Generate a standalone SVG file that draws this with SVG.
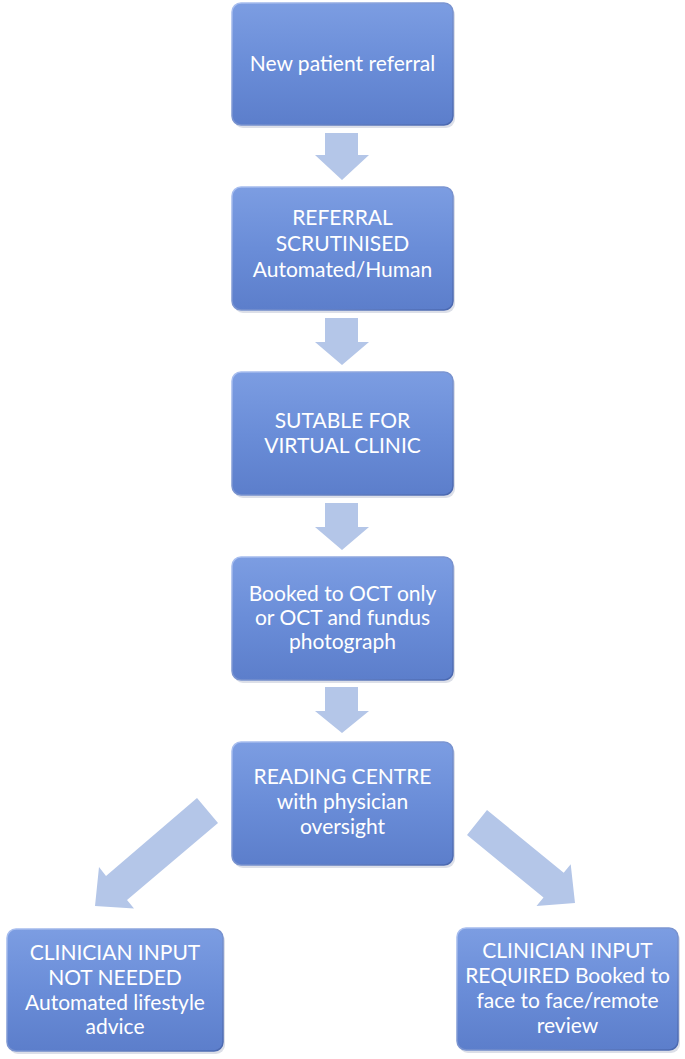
<svg xmlns="http://www.w3.org/2000/svg" width="685" height="1059" viewBox="0 0 685 1059">
<defs>
<linearGradient id="boxFill" x1="0" y1="0" x2="0" y2="1">
<stop offset="0" stop-color="#7c9de2"/>
<stop offset="0.5" stop-color="#6a8dd8"/>
<stop offset="1" stop-color="#5c7ecb"/>
</linearGradient>
<linearGradient id="boxStroke" x1="0" y1="0" x2="1" y2="1">
<stop offset="0" stop-color="#a9bff0"/>
<stop offset="1" stop-color="#4a68b0"/>
</linearGradient>
<style>
.box{fill:url(#boxFill);stroke:url(#boxStroke);stroke-width:1.5}
.shadow{fill:#3b4f80;opacity:0.18}
.lbl{font-family:Lato,"Liberation Sans",sans-serif;font-size:21px;fill:#ffffff;text-anchor:middle}
.arrow{fill:#b4c6e8}
</style>
</defs>
<rect width="685" height="1059" fill="#ffffff"/>

<g id="connectors">
<polygon class="arrow" points="325,133 358,133 358,155 369,155 342,180 315,155 325,155"/>
<polygon class="arrow" points="325,318 358,318 358,342 369,342 342,365 315,342 325,342"/>
<polygon class="arrow" points="325,503 358,503 358,527 369,527 342,550 315,527 325,527"/>
<polygon class="arrow" points="325,687 358,687 358,711 369,711 342,733 315,711 325,711"/>
<polygon class="arrow" points="197,798 218,823 127,900 134,908.5 95,906 99,867 106,876"/>
<polygon class="arrow" points="487,810 467,835 543.5,897.6 536.5,906 575,903 570.7,864.3 563.7,872.8"/>
</g>

<g id="node1">
<rect class="shadow" x="234" y="6" width="221" height="122" rx="9"/>
<rect class="box" x="232" y="3" width="221" height="122" rx="9"/>
<text class="lbl" x="342.5" y="71">New patient referral</text>
</g>
<g id="node2">
<rect class="shadow" x="234" y="190" width="221" height="123" rx="9"/>
<rect class="box" x="232" y="187" width="221" height="123" rx="9"/>
<text class="lbl" x="342.5" y="225">REFERRAL</text>
<text class="lbl" x="342.5" y="251">SCRUTINISED</text>
<text class="lbl" x="342.5" y="277">Automated/Human</text>
</g>
<g id="node3">
<rect class="shadow" x="234" y="375" width="221" height="123" rx="9"/>
<rect class="box" x="232" y="372" width="221" height="123" rx="9"/>
<text class="lbl" x="342.5" y="428">SUTABLE FOR</text>
<text class="lbl" x="342.5" y="453">VIRTUAL CLINIC</text>
</g>
<g id="node4">
<rect class="shadow" x="234" y="560" width="221" height="123" rx="9"/>
<rect class="box" x="232" y="557" width="221" height="123" rx="9"/>
<text class="lbl" x="342.5" y="601">Booked to OCT only</text>
<text class="lbl" x="342.5" y="625">or OCT and fundus</text>
<text class="lbl" x="342.5" y="649">photograph</text>
</g>
<g id="node5">
<rect class="shadow" x="234" y="745" width="221" height="123" rx="9"/>
<rect class="box" x="232" y="742" width="221" height="123" rx="9"/>
<text class="lbl" x="342.5" y="784">READING CENTRE</text>
<text class="lbl" x="342.5" y="809">with physician</text>
<text class="lbl" x="342.5" y="834">oversight</text>
</g>
<g id="node6">
<rect class="shadow" x="9" y="932" width="216" height="122" rx="9"/>
<rect class="box" x="7" y="929" width="216" height="122" rx="9"/>
<text class="lbl" x="115" y="960">CLINICIAN INPUT</text>
<text class="lbl" x="115" y="985">NOT NEEDED</text>
<text class="lbl" x="115" y="1010">Automated lifestyle</text>
<text class="lbl" x="115" y="1034">advice</text>
</g>
<g id="node7">
<rect class="shadow" x="459" y="931" width="221" height="122" rx="9"/>
<rect class="box" x="457" y="928" width="221" height="122" rx="9"/>
<text class="lbl" x="567.5" y="958">CLINICIAN INPUT</text>
<text class="lbl" x="567.5" y="983">REQUIRED Booked to</text>
<text class="lbl" x="567.5" y="1008">face to face/remote</text>
<text class="lbl" x="567.5" y="1033">review</text>
</g>
</svg>
